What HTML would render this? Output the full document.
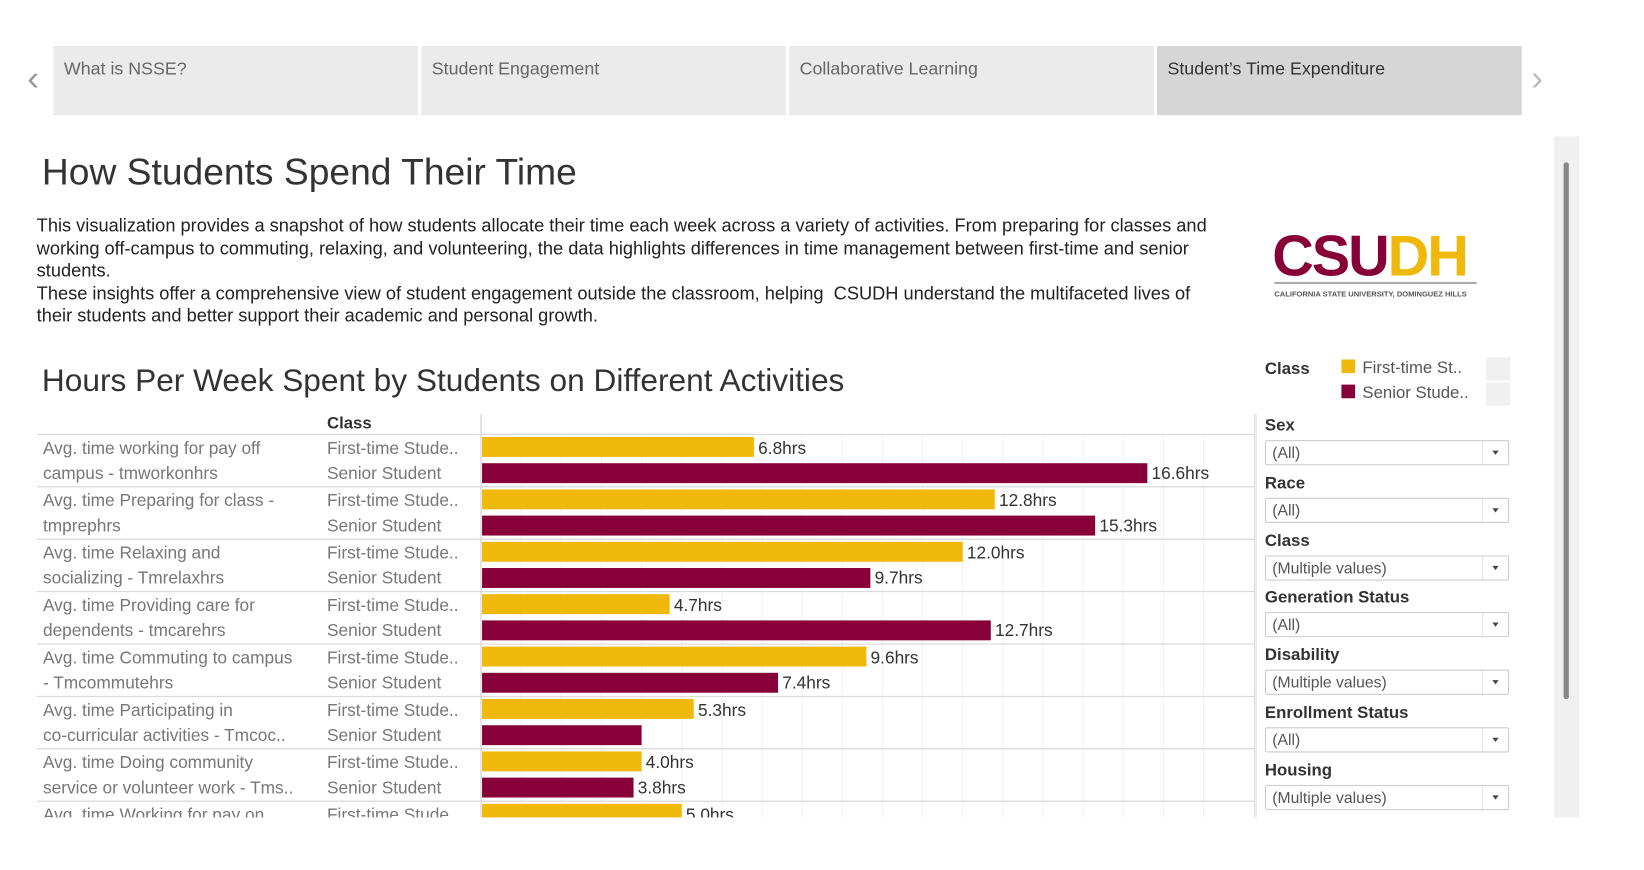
<!DOCTYPE html>
<html><head><meta charset="utf-8">
<style>
html,body{margin:0;padding:0;background:#fff;overflow:hidden;width:1644px;height:870px}
#wrap{position:absolute;left:0;top:0;width:1570px;height:830px;transform:scale(1.048);transform-origin:0 0;font-family:"Liberation Sans",sans-serif;color:#333}
.abs{position:absolute;white-space:nowrap}
.tab{position:absolute;top:44px;width:348px;height:66px;background:#ebebeb;color:#666;font-size:17px}
.tab span{position:absolute;left:10px;top:12px}
.flab{position:absolute;left:1207px;font-size:16px;font-weight:bold;color:#333}
.fbox{position:absolute;left:1207px;width:231px;height:22px;border:1px solid #ccc;border-radius:2px;font-size:15px;color:#555;background:#fff}
.fbox span{position:absolute;left:6px;top:3px}
.fbox i{position:absolute;right:0;top:0;width:24px;height:22px;border-left:1px solid #e4e4e4}
.fbox i:after{content:"";position:absolute;left:9px;top:9px;border-left:3px solid transparent;border-right:3px solid transparent;border-top:4px solid #444}
</style></head><body>
<div id="wrap">
<div class="abs" style="left:26px;top:56px;font-size:34px;color:#999">&#8249;</div>
<div class="tab" style="left:51px"><span>What is NSSE?</span></div>
<div class="tab" style="left:402px"><span>Student Engagement</span></div>
<div class="tab" style="left:753px"><span>Collaborative Learning</span></div>
<div class="tab" style="left:1104px;background:#d6d6d6;color:#333"><span>Student’s Time Expenditure</span></div>
<div class="abs" style="left:1461px;top:56px;font-size:34px;color:#bbb">&#8250;</div>
<div class="abs" style="left:1483px;top:130px;width:24px;height:650px;background:#f0f0f0"></div>
<div class="abs" style="left:1492px;top:155px;width:5px;height:512px;background:#888;border-radius:2px"></div>

<div class="abs" style="left:40px;top:144px;font-size:35.5px;color:#333">How Students Spend Their Time</div>
<div class="abs" style="left:35px;top:205px;font-size:17.4px;line-height:21.5px;color:#222">This visualization provides a snapshot of how students allocate their time each week across a variety of activities. From preparing for classes and<br>working off-campus to commuting, relaxing, and volunteering, the data highlights differences in time management between first-time and senior<br>students.<br>These insights offer a comprehensive view of student engagement outside the classroom, helping&nbsp; CSUDH understand the multifaceted lives of<br>their students and better support their academic and personal growth.</div>

<div class="abs" style="left:1214px;top:212px;width:196px;height:80px">
<div class="abs" style="left:0;top:0;font-size:55px;font-weight:900;letter-spacing:-2px;font-family:'Liberation Sans',sans-serif"><span style="color:#870037">CSU</span><span style="color:#efb80a">DH</span></div>
<div class="abs" style="left:2px;top:57px;width:193px;height:2px;background:#aaa"></div>
<div class="abs" style="left:2px;top:64px;font-size:7.2px;font-weight:bold;color:#555">CALIFORNIA STATE UNIVERSITY, DOMINGUEZ HILLS</div>
</div>

<div class="abs" style="left:40px;top:347px;font-size:30.2px;color:#333">Hours Per Week Spent by Students on Different Activities</div>

<div class="abs" style="left:1207px;top:344px;font-size:16px;font-weight:bold">Class</div>
<div class="abs" style="left:1280px;top:343px;font-size:16px;color:#555"><span style="display:inline-block;width:13px;height:13px;background:#efb80a;margin-right:7px"></span>First-time St..</div>
<div class="abs" style="left:1418px;top:341px;width:23px;height:22px;background:#f0f0f0"></div>
<div class="abs" style="left:1280px;top:367px;font-size:16px;color:#555"><span style="display:inline-block;width:13px;height:13px;background:#870037;margin-right:7px"></span>Senior Stude..</div>
<div class="abs" style="left:1418px;top:365px;width:23px;height:22px;background:#f0f0f0"></div>

<svg class="abs" style="left:0;top:0" width="1200" height="780" id="chart"></svg>

<div class="abs" style="left:1198px;top:395px;width:1px;height:385px;background:#ddd"></div>
<div id="filters"></div>
<div class="abs" style="left:0;top:780px;width:1480px;height:50px;background:#fff"></div>
</div>
<script>
const categories=["Avg. time working for pay off|campus - tmworkonhrs","Avg. time Preparing for class -|tmprephrs","Avg. time Relaxing and|socializing - Tmrelaxhrs","Avg. time Providing care for|dependents  - tmcarehrs","Avg. time Commuting to campus|- Tmcommutehrs","Avg. time Participating in|co-curricular activities - Tmcoc..","Avg. time Doing community|service or volunteer work - Tms..","Avg. time Working for pay on|campus"];
const firstTime=[6.8,12.8,12.0,4.7,9.6,5.3,4.0,5.0];
const senior=[16.6,15.3,9.7,12.7,7.4,4.0,3.8,3.0];
const seniorLabelShown=[true,true,true,true,true,false,true,true];
const NS="http://www.w3.org/2000/svg";
const svg=document.getElementById('chart');
const x0=459,pxPerHr=38.3,top0=414,groupH=50;
const xs=v=>x0+v*pxPerHr;
function mk(tag,attrs,txt){const e=document.createElementNS(NS,tag);for(const k in attrs)e.setAttribute(k,attrs[k]);if(txt!=null)e.textContent=txt;svg.appendChild(e);return e;}
for(let h=1;h<19;h++){const g=mk('line',{x1:xs(h),x2:xs(h),y1:414,y2:780,stroke:'#f2f2f2'});

}
const hd=mk('text',{x:312,y:409,'font-size':16,'font-weight':'bold',fill:'#333','font-family':'Liberation Sans'},'Class');


const ax=mk('line',{x1:x0,x2:x0,y1:395,y2:780,stroke:'#ccc'});


mk('line',{x1:1197,x2:1197,y1:395,y2:780,stroke:'#ddd'});
categories.forEach((c,i)=>{
  const gy=top0+i*groupH;
  const sep=mk('line',{x1:35,x2:1197,y1:gy+0.5,y2:gy+0.5,stroke:'#d4d4d4'});
  
  
  const parts=c.split('|');
  parts.forEach((p,j)=>{const t=mk('text',{x:41,y:gy+19+j*24,'font-size':16.5,fill:'#777','font-family':'Liberation Sans'},p);
    
    });
  const t1=mk('text',{x:312,y:gy+19,'font-size':16.5,fill:'#777','font-family':'Liberation Sans'},'First-time Stude..');
  
  
  const t2=mk('text',{x:312,y:gy+43,'font-size':16.5,fill:'#777','font-family':'Liberation Sans'},'Senior Student');
  
  
  const b1=mk('rect',{x:x0+1,y:gy+3,width:xs(firstTime[i])-x0-1,height:19,fill:'#efb80a'});
  
  
  const l1=mk('text',{x:xs(firstTime[i])+4,y:gy+19,'font-size':16.5,fill:'#333','font-family':'Liberation Sans'},firstTime[i].toFixed(1)+'hrs');
  
  
  const b2=mk('rect',{x:x0+1,y:gy+28,width:xs(senior[i])-x0-1,height:19,fill:'#870037'});
  
  
  if(seniorLabelShown[i]){const l2=mk('text',{x:xs(senior[i])+4,y:gy+43,'font-size':16.5,fill:'#333','font-family':'Liberation Sans'},senior[i].toFixed(1)+'hrs');
  
  }
});
const filters=[["Sex","(All)"],["Race","(All)"],["Class","(Multiple values)"],["Generation Status","(All)"],["Disability","(Multiple values)"],["Enrollment Status","(All)"],["Housing","(Multiple values)"]];
const fc=document.getElementById('filters');
filters.forEach((f,i)=>{
  const y=398+i*54.8;
  const l=document.createElement('div');l.className='flab';l.style.top=y+'px';l.textContent=f[0];
  
  
  fc.appendChild(l);
  const b=document.createElement('div');b.className='fbox';b.style.top=(y+22)+'px';b.innerHTML='<span>'+f[1]+'</span><i></i>';
  
  
  fc.appendChild(b);
});
</script>
</body></html>
